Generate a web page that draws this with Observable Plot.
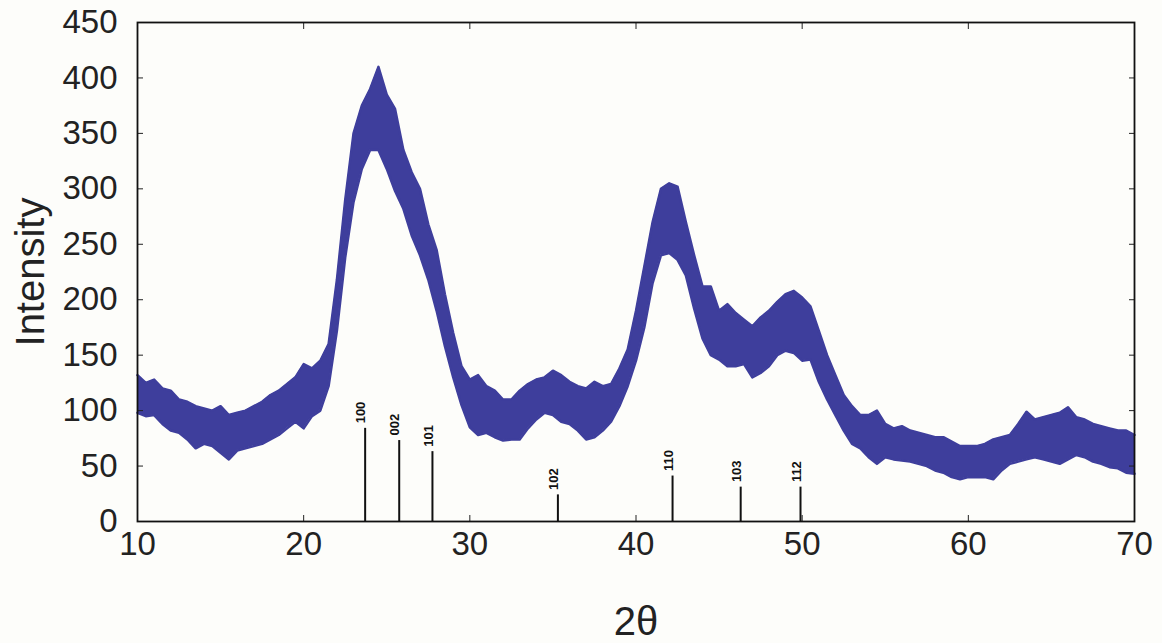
<!DOCTYPE html>
<html><head><meta charset="utf-8">
<script src="https://cdn.jsdelivr.net/npm/d3@7"></script>
<script src="https://cdn.jsdelivr.net/npm/@observablehq/plot@0.6"></script>
<style>body{margin:0;background:#fdfdfa}</style>
</head><body><div id="chart"></div>
<script>
// 2θ sample positions (degrees)
const twoTheta = [10,10.5,11,11.5,12,12.5,13,13.5,14,14.5,15,15.5,16,16.5,17,17.5,18,18.5,19,19.5,
  20,20.5,21,21.5,22,22.5,23,23.5,24,24.5,25,25.5,26,26.5,27,27.5,28,28.5,29,29.5,
  30,30.5,31,31.5,32,32.5,33,33.5,34,34.5,35,35.5,36,36.5,37,37.5,38,38.5,39,39.5,
  40,40.5,41,41.5,42,42.5,43,43.5,44,44.5,45,45.5,46,46.5,47,47.5,48,48.5,49,49.5,
  50,50.5,51,51.5,52,52.5,53,53.5,54,54.5,55,55.5,56,56.5,57,57.5,58,58.5,59,59.5,
  60,60.5,61,61.5,62,62.5,63,63.5,64,64.5,65,65.5,66,66.5,67,67.5,68,68.5,69,69.5,70];
// lower envelope of the noisy intensity trace
const intensityLow = [98,95,96,88,82,80,74,66,70,68,62,56,64,66,68,70,74,78,84,90,
  84,95,100,122,172,238,288,318,335,335,318,298,282,258,240,218,190,158,130,105,
  85,78,80,76,73,74,74,84,92,98,96,90,88,82,74,76,82,90,104,122,
  145,175,215,240,242,236,222,192,165,150,146,140,140,142,130,134,140,150,154,152,
  145,146,126,110,96,82,70,66,58,52,58,56,55,54,52,50,46,44,40,38,
  40,40,40,38,46,52,54,56,58,56,54,52,56,60,58,54,52,49,48,44,43];
// upper envelope of the noisy intensity trace
const intensityHigh = [132,125,128,120,118,110,108,104,102,100,104,96,98,100,104,108,114,118,124,130,
  142,138,145,160,218,290,350,375,390,410,385,372,335,315,300,268,245,205,170,140,
  128,132,122,118,110,110,118,124,128,130,136,132,126,122,120,126,122,124,138,155,
  190,230,270,300,305,302,270,240,212,212,190,196,188,182,176,184,190,198,205,208,
  202,194,172,150,132,114,104,96,96,100,88,84,86,82,80,78,76,76,72,68,
  68,68,70,74,76,78,88,99,92,94,96,98,103,94,92,88,86,84,82,82,78];

// reference reflections
const hklLabels = ["100","002","101","102","110","103","112"];
const hklPos    = [23.7, 25.75, 27.75, 35.3, 42.2, 46.3, 49.9];
const hklHeight = [84, 73, 63, 24, 41, 31, 31];

const xTicks = [10,20,30,40,50,60,70];
const yTicks = [0,50,100,150,200,250,300,350,400,450];
const xTitle = "2θ";
const yTitle = "Intensity";

const trace = twoTheta.map((t, i) => ({t, lo: intensityLow[i], hi: intensityHigh[i]}));
const hkl = hklLabels.map((l, i) => ({label: l, t: hklPos[i], h: hklHeight[i]}));

const blue = "#3e3e9c";
const ink = "#222";

const chart = Plot.plot({
  width: 1162,
  height: 643,
  marginLeft: 137,
  marginRight: 28,
  marginTop: 22,
  marginBottom: 122,
  style: {background: "#fdfdfa", fontFamily: "'Liberation Sans', Arial, sans-serif", fontSize: "34px", color: ink},
  x: {domain: [10, 70]},
  y: {domain: [0, 450]},
  marks: [
    Plot.areaY(trace, {x: "t", y1: "lo", y2: "hi", fill: blue}),
    Plot.line(trace, {x: "t", y: "hi", stroke: blue, strokeWidth: 2.5}),
    Plot.line(trace, {x: "t", y: "lo", stroke: blue, strokeWidth: 2.5}),
    Plot.ruleX(hkl, {x: "t", y1: 0, y2: "h", stroke: "#111", strokeWidth: 2}),
    Plot.text(hkl, {x: "t", y: "h", text: "label", rotate: -90, textAnchor: "start", lineAnchor: "middle", dy: -5, dx: -4, fontSize: 13, fontWeight: "bold", fill: "#111"}),
    Plot.axisX(xTicks, {anchor: "bottom", tickSize: -6, tickPadding: 16, fontSize: 33, label: null}),
    Plot.axisX(xTicks, {anchor: "top", tickSize: -6, tickFormat: () => "", label: null}),
    Plot.axisY(yTicks, {anchor: "left", tickSize: -6, tickPadding: 26, fontSize: 33, label: null}),
    Plot.axisY(yTicks, {anchor: "right", tickSize: -6, tickFormat: () => "", label: null}),
    Plot.text([yTitle], {frameAnchor: "left", dx: -106, rotate: -90, lineAnchor: "middle", textAnchor: "middle", fontSize: 40, letterSpacing: "4px", fill: ink}),
    Plot.text([xTitle], {frameAnchor: "bottom", dy: 101, lineAnchor: "middle", textAnchor: "middle", fontSize: 40, fill: ink}),
    Plot.frame({stroke: "#111", strokeWidth: 1.8})
  ]
});
document.getElementById("chart").append(chart);
</script>
</body></html>
